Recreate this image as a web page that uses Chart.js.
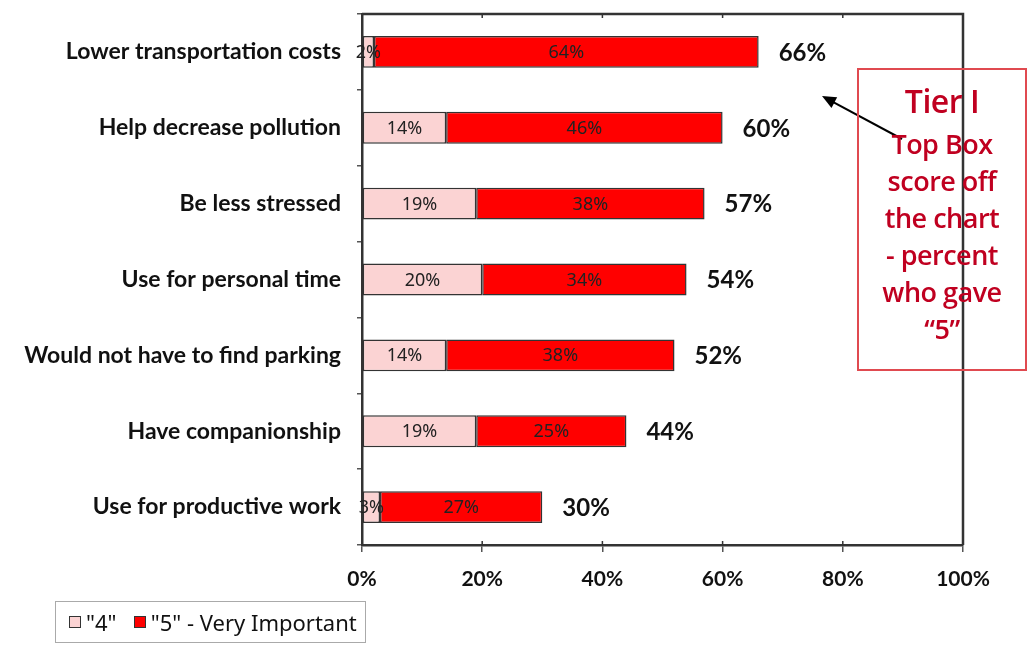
<!DOCTYPE html>
<html>
<head>
<meta charset="utf-8">
<script src="https://cdn.jsdelivr.net/npm/chart.js@4"></script>
<style>
  body { margin: 0; background: #fff; }
  #wrap { position: relative; width: 1029px; height: 645px; }
  #chart { position: absolute; left: 0; top: 0; }
  .tier {
    position: absolute; left: 857px; top: 68px; width: 170px; height: 303px;
    border: 2px solid #e04a50; box-sizing: border-box;
    color: #c00020; font-family: "Open Sans", sans-serif; font-weight: 600;
    text-align: center; font-size: 27px; line-height: 37px; padding-top: 11px;
    letter-spacing: -0.5px;
  }
  .tier .head { font-size: 32px; line-height: 40px; margin-bottom: 4px; }
  .legend {
    position: absolute; left: 55px; top: 601px; width: 311px; height: 42px;
    border: 1px solid #aaa; box-sizing: border-box;
    font-family: "Noto Sans", sans-serif; font-size: 22px; color: #111;
    display: flex; align-items: center; padding-left: 13px; white-space: nowrap;
  }
  .legend .sw { display: inline-block; width: 10px; height: 10px; border: 1.5px solid #333; margin-right: 5px; }
</style>
</head>
<body>
<div id="wrap">
  <canvas id="chart" width="1029" height="645"></canvas>
  <div class="tier">
    <div class="head">Tier I</div>
    Top Box<br>score off<br>the chart<br>- percent<br>who gave<br>“5”
  </div>
  <div class="legend">
    <span class="sw" style="background:#fbd3d3"></span><span>"4"&nbsp;&nbsp;&nbsp;</span>
    <span class="sw" style="background:#ff0000"></span><span>"5" - Very Important</span>
  </div>
</div>
<script>
// reasons, top to bottom
const categories = [
  'Lower transportation costs',
  'Help decrease pollution',
  'Be less stressed',
  'Use for personal time',
  'Would not have to find parking',
  'Have companionship',
  'Use for productive work'
]
const fourValues = [2, 14, 19, 20, 14, 19, 3]   // rated "4"
const fiveValues = [64, 46, 38, 34, 38, 25, 27] // rated "5" - very important
const xTicks = [0, 20, 40, 60, 80, 100]

// value text inside each segment plus the total at the end of each bar
const barLabels = {
  id: 'barLabels',
  afterDatasetsDraw(chart) {
    const ctx = chart.ctx
    ctx.save()
    ctx.textBaseline = 'middle'
    chart.data.datasets.forEach((ds, di) => {
      const meta = chart.getDatasetMeta(di)
      meta.data.forEach((bar, i) => {
        ctx.font = '18px "Noto Sans"'
        ctx.fillStyle = '#222'
        ctx.textAlign = 'center'
        ctx.fillText(ds.data[i] + '%', (bar.x + bar.base) / 2, bar.y + 1)
        if (di === chart.data.datasets.length - 1) {
          const total = fourValues[i] + fiveValues[i]
          ctx.font = 'bold 24px Lato'
          ctx.fillStyle = '#111'
          ctx.textAlign = 'left'
          ctx.fillText(total + '%', bar.x + 20, bar.y + 1)
        }
      })
    })
    ctx.restore()
  }
}

// top and right frame lines with inward ticks, plus the arrow to the note box
const frame = {
  id: 'frame',
  afterDraw(chart) {
    const ctx = chart.ctx
    const a = chart.chartArea
    const x = chart.scales.x
    ctx.save()
    ctx.strokeStyle = '#333'
    ctx.lineWidth = 2.5
    ctx.beginPath()
    ctx.moveTo(a.left, a.top)
    ctx.lineTo(a.right, a.top)
    ctx.lineTo(a.right, a.bottom)
    ctx.stroke()
    ctx.lineWidth = 1.5
    xTicks.slice(1, -1).forEach(v => {
      const px = x.getPixelForValue(v)
      ctx.beginPath()
      ctx.moveTo(px, a.top)
      ctx.lineTo(px, a.top + 4)
      ctx.moveTo(px, a.bottom)
      ctx.lineTo(px, a.bottom - 4)
      ctx.stroke()
    })
    // arrow
    ctx.strokeStyle = '#000'
    ctx.fillStyle = '#000'
    ctx.lineWidth = 2
    const x1 = 902, y1 = 139, x2 = 822, y2 = 96
    const ang = Math.atan2(y2 - y1, x2 - x1)
    ctx.beginPath()
    ctx.moveTo(x1, y1)
    ctx.lineTo(x2 - 8 * Math.cos(ang), y2 - 8 * Math.sin(ang))
    ctx.stroke()
    ctx.beginPath()
    ctx.moveTo(x2, y2)
    ctx.lineTo(x2 - 14 * Math.cos(ang) + 6 * Math.sin(ang), y2 - 14 * Math.sin(ang) - 6 * Math.cos(ang))
    ctx.lineTo(x2 - 14 * Math.cos(ang) - 6 * Math.sin(ang), y2 - 14 * Math.sin(ang) + 6 * Math.cos(ang))
    ctx.closePath()
    ctx.fill()
    ctx.restore()
  }
}

const ctx = document.getElementById('chart').getContext('2d')
const chart = new Chart(ctx, {
  type: 'bar',
  data: {
    labels: categories,
    datasets: [
      {
        label: '"4"',
        data: fourValues,
        backgroundColor: '#fbd3d3',
        borderColor: '#333',
        borderWidth: 1.5,
        borderSkipped: false,
        categoryPercentage: 1,
        barPercentage: 0.42
      },
      {
        label: '"5" - Very Important',
        data: fiveValues,
        backgroundColor: '#ff0000',
        borderColor: '#333',
        borderWidth: 1.5,
        borderSkipped: false,
        categoryPercentage: 1,
        barPercentage: 0.42
      }
    ]
  },
  options: {
    indexAxis: 'y',
    responsive: false,
    animation: false,
    layout: { padding: { top: 14, right: 66, left: 0, bottom: 0 } },
    plugins: { legend: { display: false }, tooltip: { enabled: false } },
    scales: {
      x: {
        stacked: true,
        min: 0,
        max: 100,
        afterBuildTicks: scale => { scale.ticks = xTicks.map(v => ({ value: v })) },
        afterFit: scale => { scale.height = 100; scale.paddingLeft = 0; scale.paddingRight = 0 },
        border: { color: '#333', width: 2.5 },
        grid: { drawOnChartArea: false, tickLength: 7, color: '#555', lineWidth: 1.5 },
        ticks: {
          callback: v => v + '%',
          color: '#111',
          font: { family: 'Lato', weight: 'bold', size: 21 },
          padding: 15
        }
      },
      y: {
        stacked: true,
        afterFit: scale => { scale.width = 362; scale.paddingTop = 0; scale.paddingBottom = 0 },
        border: { color: '#333', width: 2.5 },
        grid: { drawOnChartArea: false, tickLength: 5, color: '#555', lineWidth: 1.5, offset: true },
        ticks: {
          color: '#111',
          font: { family: 'Lato', weight: 'bold', size: 23 },
          padding: 16
        }
      }
    }
  },
  plugins: [barLabels, frame]
})
</script>
</body>
</html>
